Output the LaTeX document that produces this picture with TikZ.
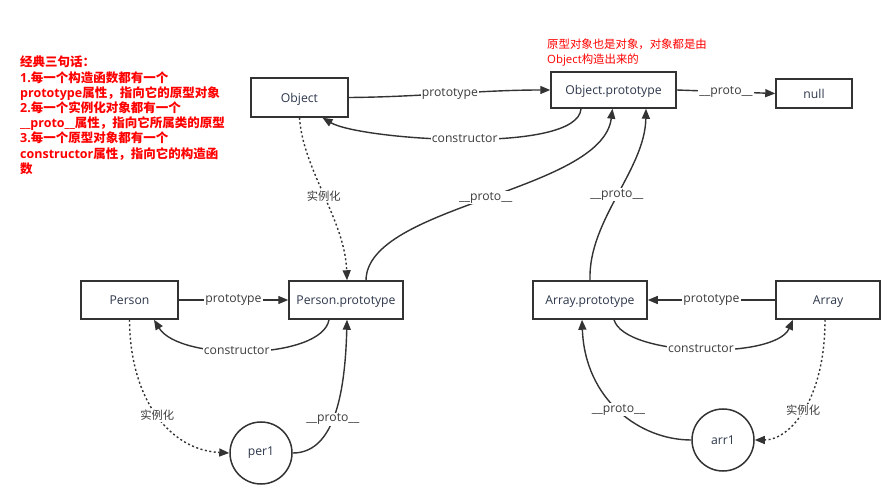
\documentclass[tikz,border=0pt]{standalone}
\usepackage{fontspec}
\setmainfont{Open Sans}
\newfontfamily\cjk{Noto Sans CJK SC}
\usetikzlibrary{arrows.meta}
\definecolor{ln}{RGB}{51,51,51}
\definecolor{tx}{RGB}{45,55,75}
\definecolor{lb}{RGB}{60,60,60}
\definecolor{rd}{RGB}{255,0,0}
\begin{document}
\begin{tikzpicture}[x=1pt,y=-1pt,
  >={Triangle[length=10pt,width=8pt]},
  box/.style={draw=ln, line width=1.5pt, fill=white, text=tx, inner sep=0pt,
    text height=1.1em, text depth=0.15em,
    font=\fontsize{12.2}{14}\selectfont},
  circ/.style={circle, draw=ln, line width=1.5pt, fill=white, minimum size=62pt,
    inner sep=0pt, text=tx, font=\fontsize{12.2}{14}\selectfont},
  edge/.style={draw=ln, line width=1.4pt, ->},
  dotedge/.style={edge, dash pattern=on 2pt off 2.5pt},
  lbl/.style={fill=white, inner sep=1pt, text=lb, font=\fontsize{12.2}{14}\selectfont},
  cjklbl/.style={fill=white, inner sep=1pt, text=lb, font=\cjk\fontsize{11.3}{13}\selectfont},
  note/.style={text=rd, align=left, inner sep=0pt, anchor=north west}]
\useasboundingbox (0,0) rectangle (892,486);
\fill[white] (0,0) rectangle (892,486);

% red notes
\node[note, font=\bfseries\fontsize{12.5}{15.2}\selectfont] (rules) at (20,56)
 {{\cjk 经典三句话：}\\
  1.{\cjk 每一个构造函数都有一个}\\
  prototype{\cjk 属性，指向它的原型对象}\\
  2.{\cjk 每一个实例化对象都有一个}\\
  \_\_proto\_\_{\cjk 属性，指向它所属类的原型}\\
  3.{\cjk 每一个原型对象都有一个}\\
  constructor{\cjk 属性，指向它的构造函}\\
  {\cjk 数}};
\node[note, font=\fontsize{11.4}{14.5}\selectfont] (pnote) at (547,39)
 {{\cjk 原型对象也是对象，对象都是由}\\Object{\cjk 构造出来的}};

% nodes
\node[box, minimum width=97pt, minimum height=39pt] (obj) at (299.5,97.5) {Object};
\node[box, minimum width=125pt, minimum height=36pt] (objp) at (613.5,90) {Object.prototype};
\node[box, minimum width=76pt, minimum height=29pt] (null) at (814,93.5) {null};
\node[box, minimum width=97pt, minimum height=38pt] (person) at (129.5,300) {Person};
\node[box, minimum width=114pt, minimum height=38pt] (personp) at (346,300) {Person.prototype};
\node[circ] (per1) at (261,453) {per1};
\node[box, minimum width=114pt, minimum height=38pt] (arrp) at (590,300) {Array.prototype};
\node[box, minimum width=104pt, minimum height=38pt] (arr) at (828,300) {Array};
\node[circ] (arr1) at (723,440) {arr1};

% top
\draw[edge] (obj.east) .. controls (420,97) and (480,90) .. node[lbl]{prototype} (objp.west);
\draw[edge] ([xshift=-32.5pt]objp.south) .. controls (578,155) and (360,140) .. node[lbl]{constructor} ([xshift=23pt]obj.south);
\draw[edge] (objp.east) -- node[lbl]{\_\_proto\_\_} (null.west);
\draw[dotedge] (obj.south) .. controls (303,170) and (345,220) .. node[cjklbl]{实例化} ([xshift=1pt]personp.north);
\draw[edge] ([xshift=20pt]personp.north) .. controls (367,205) and (602,192) .. node[lbl]{\_\_proto\_\_} ([xshift=-1pt]objp.south);
\draw[edge] (arrp.north) .. controls (588,220) and (645,170) .. node[lbl]{\_\_proto\_\_} ([xshift=32.5pt]objp.south);

% Person
\draw[edge] (person.east) -- node[lbl]{prototype} (personp.west);
\draw[edge] ([xshift=-17pt]personp.south) .. controls (322,360) and (180,362) .. node[lbl, pos=0.55]{constructor} ([xshift=24.5pt]person.south);
\draw[dotedge] (person.south) .. controls (130,400) and (170,450) .. node[cjklbl]{实例化} (per1.west);
\draw[edge] (per1.east) .. controls (332,453) and (345,400) .. node[lbl, pos=0.48]{\_\_proto\_\_} ([xshift=1pt]personp.south);

% Array
\draw[edge] (arr.west) -- node[lbl]{prototype} (arrp.east);
\draw[edge] ([xshift=24pt]arrp.south) .. controls (625,357) and (775,360) .. node[lbl]{constructor} ([xshift=-35pt]arr.south);
\draw[dotedge] ([xshift=-3pt]arr.south) .. controls (825,400) and (790,440) .. node[cjklbl]{实例化} (arr1.east);
\draw[edge] (arr1.west) .. controls (640,440) and (585,400) .. node[lbl]{\_\_proto\_\_} ([xshift=-8pt]arrp.south);
\end{tikzpicture}
\end{document}
